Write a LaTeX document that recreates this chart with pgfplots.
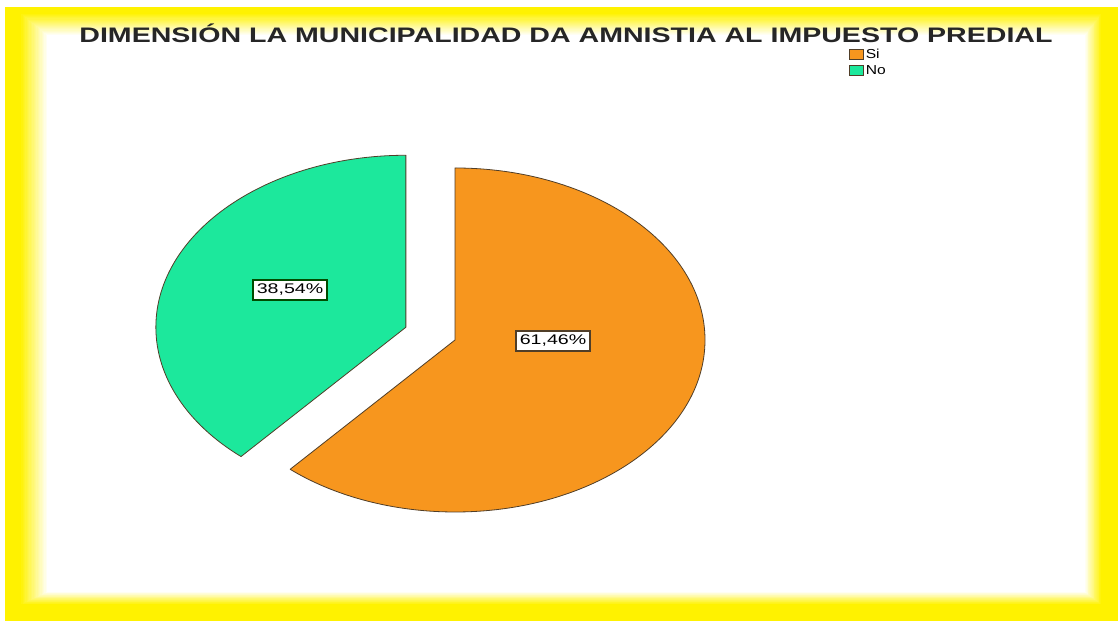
\documentclass[border=0pt]{standalone}
\usepackage{pgfplots}
\usepackage{pgfplotstable}
\pgfplotsset{compat=1.18}
\usepackage{fontspec}
\setmainfont{Liberation Sans}
\definecolor{siOrange}{RGB}{247,150,30}
\definecolor{noGreen}{RGB}{28,232,156}
\definecolor{edgeC}{RGB}{80,62,40}
\pgfplotstableread{
cat value
Si 61.46
No 38.54
}\piedata
\pgfplotstablegetelem{0}{value}\of\piedata \let\vSi\pgfplotsretval
\pgfplotstablegetelem{1}{value}\of\piedata \let\vNo\pgfplotsretval
\pgfmathsetmacro{\angSi}{\vSi*3.6}
\pgfmathsetmacro{\angNo}{\vNo*3.6}
\pgfmathsetmacro{\midNo}{90+\angNo/2}
\pgfmathsetmacro{\gcx}{455+250*0.21*cos(\midNo)}
\pgfmathsetmacro{\gcy}{286+172*0.21*sin(\midNo)}
\begin{document}
\begin{tikzpicture}
% background and glowing yellow frame
\fill[white] (0pt,0pt) rectangle (1120pt,626pt);
\fill[yellow] (5pt,5pt) rectangle (1118pt,619pt);
\foreach \i in {0,...,20}{
  \pgfmathsetmacro{\t}{\i/20}
  \pgfmathsetmacro{\pc}{100-100*\t}
  \pgfmathsetmacro{\xa}{20+27*\t}
  \pgfmathsetmacro{\xb}{1102-17*\t}
  \pgfmathsetmacro{\ya}{21+13*\t}
  \pgfmathsetmacro{\yb}{613-22*\t}
  \fill[yellow!\pc!white] (\xa pt,\ya pt) rectangle (\xb pt,\yb pt);
}
\begin{axis}[
  at={(0pt,0pt)}, anchor=origin,
  x=1pt, y=1pt,
  xmin=0, xmax=1120, ymin=0, ymax=626,
  hide axis,
  clip=false,
  legend cell align=left,
  legend image code/.code={\draw[#1, line width=0.8pt] (0pt,-5pt) rectangle (14pt,5pt);},
  legend style={at={(axis cs:849,579)}, anchor=north west, draw=none, fill=none,
    font=\fontsize{13}{13}\selectfont, inner sep=0pt, row sep=3pt,
    nodes={inner sep=1.5pt, xscale=1.2}},
]
\addlegendimage{fill=siOrange, draw=edgeC}
\addlegendentry{Si}
\addlegendimage{fill=noGreen, draw=edgeC}
\addlegendentry{No}
% Si slice
\filldraw[fill=siOrange, draw=edgeC, line width=0.8pt, line join=round]
  (axis cs:455,286) -- (axis cs:455,458)
  arc[start angle=90, delta angle=-\angSi, x radius=250pt, y radius=172pt] -- cycle;
% No slice (exploded)
\filldraw[fill=noGreen, draw=edgeC, line width=0.8pt, line join=round]
  (axis cs:\gcx,\gcy) -- (axis cs:\gcx,\gcy+172)
  arc[start angle=90, delta angle=\angNo, x radius=250pt, y radius=172pt] -- cycle;
\node[draw=black!70!green, line width=1.6pt, fill=white, inner xsep=2.5pt, inner ysep=4pt,
  font=\fontsize{14}{14}\selectfont, xscale=1.4] at (axis cs:290,336) {38,54\%};
\node[draw=edgeC, line width=1.6pt, fill=white, inner xsep=2.5pt, inner ysep=4pt,
  font=\fontsize{14}{14}\selectfont, xscale=1.4] at (axis cs:553,285) {61,46\%};
\node[font=\fontsize{21}{21}\selectfont\bfseries, text=black!85, xscale=1.36]
  at (axis cs:566,593) {DIMENSIÓN LA MUNICIPALIDAD DA AMNISTIA AL IMPUESTO PREDIAL};
\end{axis}
\end{tikzpicture}
\end{document}
